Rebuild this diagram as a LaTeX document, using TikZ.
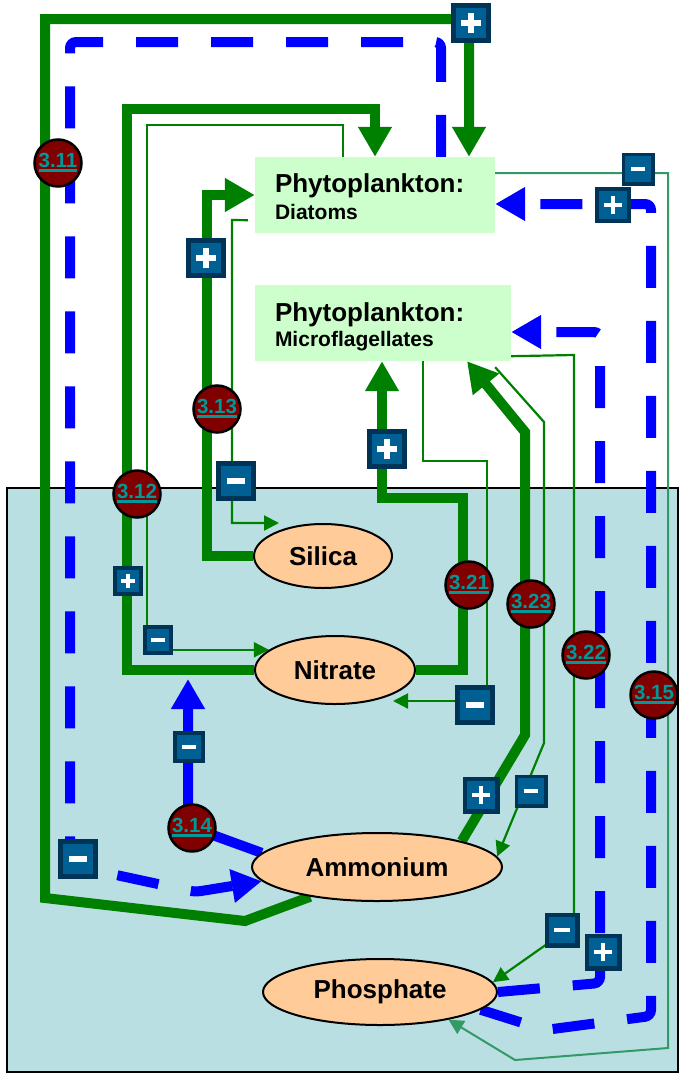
\documentclass[tikz,border=0pt]{standalone}
\usepackage{fontspec}
\setmainfont{Liberation Sans}
\usetikzlibrary{arrows.meta,shapes.geometric}
\definecolor{grn}{RGB}{0,128,0}
\definecolor{blu}{RGB}{0,0,255}
\definecolor{sgrn}{RGB}{51,153,102}
\definecolor{waterc}{RGB}{186,223,226}
\definecolor{phyto}{RGB}{204,255,204}
\definecolor{nutr}{RGB}{255,204,153}
\definecolor{dred}{RGB}{128,0,0}
\definecolor{tealtx}{RGB}{0,153,153}
\definecolor{bdOut}{RGB}{0,52,86}
\definecolor{bdIn}{RGB}{0,96,148}
\pgfdeclarelayer{waterl}
\pgfdeclarelayer{lines}
\pgfsetlayers{waterl,lines,main}
\newcommand\ulab[1]{\setbox0=\hbox{#1}\rlap{\rule[-4.5pt]{\wd0}{3pt}}\box0}
\tikzset{
  gline/.style={draw=grn, line width=10pt},
  bigtip/.style={-{Triangle[width=32pt,length=30pt]}},
  tline/.style={draw=grn, line width=2.2pt, -{Triangle[width=15pt,length=15pt]}},
  bdash/.style={draw=blu, line width=10pt, dash pattern=on 42pt off 33pt, rounded corners=6pt},
  bsolid/.style={draw=blu, line width=10pt},
  pbox/.style={rectangle, fill=phyto, inner xsep=20pt, inner ysep=0pt, minimum height=76pt, align=left, font=\bfseries},
  nut/.style={ellipse, fill=nutr, draw=black, line width=2pt, inner sep=0pt, font=\fontsize{26}{28}\selectfont\bfseries},
  cnum/.style={circle, fill=dred, draw=black, line width=2.5pt, minimum size=47pt, inner sep=0pt, text=tealtx, font=\fontsize{20.5}{22}\selectfont\bfseries},
  bminus/.style={rectangle, inner sep=0pt, minimum size=#1pt, fill=bdOut,
    path picture={
      \fill[bdIn] ([shift={(0.12*#1pt,0.12*#1pt)}]path picture bounding box.south west) rectangle ([shift={(-0.12*#1pt,-0.12*#1pt)}]path picture bounding box.north east);
      \fill[white] ([shift={(-0.22*#1pt,-0.065*#1pt)}]path picture bounding box.center) rectangle ([shift={(0.22*#1pt,0.065*#1pt)}]path picture bounding box.center);
    }},
  bplus/.style={rectangle, inner sep=0pt, minimum size=#1pt, fill=bdOut,
    path picture={
      \fill[bdIn] ([shift={(0.12*#1pt,0.12*#1pt)}]path picture bounding box.south west) rectangle ([shift={(-0.12*#1pt,-0.12*#1pt)}]path picture bounding box.north east);
      \fill[white] ([shift={(-0.24*#1pt,-0.065*#1pt)}]path picture bounding box.center) rectangle ([shift={(0.24*#1pt,0.065*#1pt)}]path picture bounding box.center);
      \fill[white] ([shift={(-0.065*#1pt,-0.24*#1pt)}]path picture bounding box.center) rectangle ([shift={(0.065*#1pt,0.24*#1pt)}]path picture bounding box.center);
    }},
}
\begin{document}
\begin{tikzpicture}[x=1pt,y=-1pt]
\useasboundingbox (0,0) rectangle (681,1074);
\begin{pgfonlayer}{waterl}
  \draw[fill=waterc, draw=black, line width=2pt] (7,488) rectangle (678,1072);
\end{pgfonlayer}

% boxes and nutrients
\node[pbox, minimum width=240pt, text width=200pt] (diat) at (375,195)
  {\fontsize{26}{12}\selectfont Phytoplankton:\rule[-6pt]{0pt}{29pt}\\\fontsize{21}{12}\selectfont Diatoms\rule{0pt}{20pt}};
\node[pbox, minimum width=256pt, text width=216pt] (micro) at (383,323)
  {\fontsize{26}{12}\selectfont Phytoplankton:\rule[-6pt]{0pt}{33pt}\\\fontsize{21}{12}\selectfont Microflagellates\rule{0pt}{18pt}};
\node[nut, minimum width=138pt, minimum height=64pt] (silica) at (323,556) {Silica};
\node[nut, minimum width=160pt, minimum height=68pt] (nitrate) at (335,670) {Nitrate};
\node[nut, minimum width=250pt, minimum height=68pt] (ammonium) at (377,867) {Ammonium};
\node[nut, minimum width=234pt, minimum height=66pt] (phosphate) at (380,992) {Phosphate};

\coordinate (silT) at (279,523);
\coordinate (nitT) at (393,701);
\coordinate (b14t) at (188,679);

\begin{pgfonlayer}{lines}
  % 3.11 green
  \draw[gline,bigtip] (ammonium.204) -- (245,921) -- (45,898) -- (45,19) -- (469,19) -- (469,0 |- diat.north);
  % 3.12 green
  \draw[gline,bigtip] (nitrate.west) -- (127,670) -- (127,109) -- (375,109) -- (375,0 |- diat.north);
  % 3.12 thin
  \draw[tline] (343,0 |- diat.north) -- (343,125) -- (147,125) -- (147,0 |- nitrate.163) -- (nitrate.163);
  % 3.13 green
  \draw[gline,bigtip] (silica.west) -- (207,0 |- silica.west) -- (207,0 |- diat.west) -- (diat.west);
  % 3.13 thin
  \draw[tline] ([shift={(-7pt,13pt)}]diat.south west) -- (232,220) -- (232,523) -- (silT);
  % 3.21 green
  \draw[gline,bigtip] (nitrate.east) -- (463,670) -- (463,498) -- (382,498) -- (382,0 |- micro.south);
  % 3.21 thin
  \draw[tline] (423,0 |- micro.south) -- (423,461) -- (487,461) -- (487,701) -- (nitT);
  % 3.23 green
  \draw[gline,bigtip] (ammonium.17) -- (525,735) -- (525,432) -- (467,0 |- micro.south);
  % 3.23 thin
  \draw[tline] ([shift={(-16pt,-6pt)}]micro.south east) -- (544,422) -- (544,743) -- (ammonium.5);
  % 3.22 thin
  \draw[tline] ([yshift=5pt]micro.south east) -- (574,355) -- (574,925) -- (phosphate.5);
  % 3.15 thin
  \draw[tline, draw=sgrn, line width=2pt] ([yshift=22pt]diat.east) -- (668,173) -- (668,1048) -- (515,1060) -- (phosphate.-22);
  % 3.11 blue dashed
  \draw[bdash,bigtip] (441,0 |- diat.north) -- (441,42) -- (70,42) -- (70,865) -- (195,892) -- (ammonium.187);
  % 3.14 blue solid
  \draw[bsolid,bigtip] (ammonium.173) -- (188,826) -- (b14t);
  % 3.22 blue dashed
  \draw[bdash,bigtip] (phosphate.east) -- (600,983) -- (600,332) -- (micro.east |- 600,332);
  % 3.15 blue dashed
  \draw[bdash,bigtip] (phosphate.-10) -- (545,1030) -- (651,1016) -- (651,204) -- (diat.east |- 651,204);
\end{pgfonlayer}

% badges
\node[bplus=40] (g1) at (471,23) {};
\node[bminus=33] (g2) at (638,169) {};
\node[bplus=36] (g3) at (613,205) {};
\node[bplus=40] (g4) at (206,258) {};
\node[bminus=40] (g5) at (236,481) {};
\node[bplus=40] (g6) at (387,449) {};
\node[bplus=30] (g7) at (128,581) {};
\node[bminus=30] (g8) at (158,640) {};
\node[bminus=32] (g9) at (189,747) {};
\node[bminus=40] (g10) at (475,705) {};
\node[bplus=37] (g11) at (481,795) {};
\node[bminus=33] (g12) at (531,791) {};
\node[bminus=40] (g13) at (78,859) {};
\node[bminus=35] (g14) at (562,930) {};
\node[bplus=37] (g15) at (603,952) {};

% numbered circles
\node[cnum] (c311) at (58,163) {\ulab{3.11}};
\node[cnum] (c312) at (137,494) {\ulab{3.12}};
\node[cnum] (c313) at (217,409) {\ulab{3.13}};
\node[cnum] (c314) at (192,828) {\ulab{3.14}};
\node[cnum] (c321) at (469,585) {\ulab{3.21}};
\node[cnum] (c323) at (531,604) {\ulab{3.23}};
\node[cnum] (c322) at (586,655) {\ulab{3.22}};
\node[cnum] (c315) at (654,695) {\ulab{3.15}};
\end{tikzpicture}
\end{document}
